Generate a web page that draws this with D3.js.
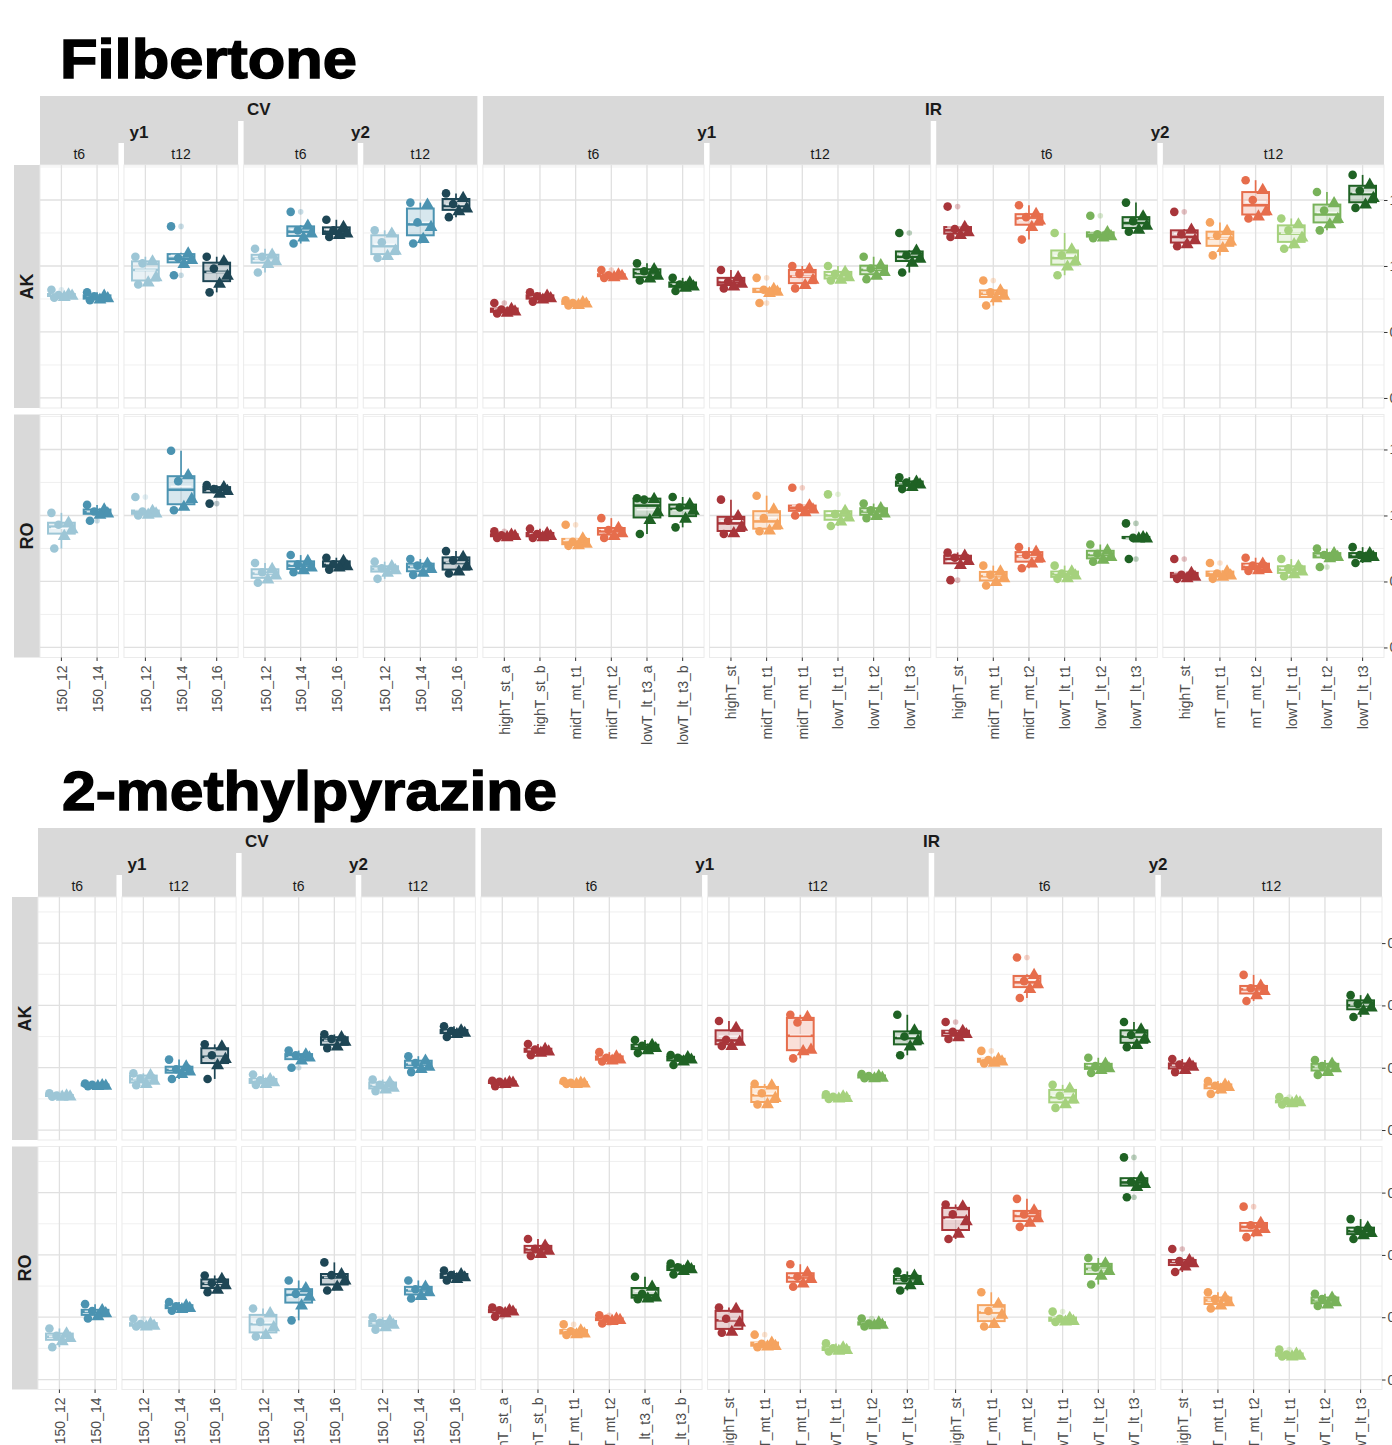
<!DOCTYPE html>
<html>
<head>
<meta charset="utf-8">
<script src="https://cdn.jsdelivr.net/npm/d3@7"></script>
<style>
  body { margin: 0; background: #fff; }
  svg { display: block; font-family: "Liberation Sans", Arial, sans-serif; }
</style>
</head>
<body>
<div id="chart"></div>
<script>
// ---------------- data ----------------
const ROWS = ["AK", "RO"];

// facet columns, left to right
const PANEL_SYS   = ["CV", "CV", "CV", "CV", "IR", "IR", "IR", "IR"];
const PANEL_YEAR  = ["y1", "y1", "y2", "y2", "y1", "y1", "y2", "y2"];
const PANEL_TIME  = ["t6", "t12", "t6", "t12", "t6", "t12", "t6", "t12"];
const PANEL_LABELS = [
  ["150_12", "150_14"],
  ["150_12", "150_14", "150_16"],
  ["150_12", "150_14", "150_16"],
  ["150_12", "150_14", "150_16"],
  ["highT_st_a", "highT_st_b", "midT_mt_t1", "midT_mt_t2", "lowT_lt_t3_a", "lowT_lt_t3_b"],
  ["highT_st", "midT_mt_t1", "midT_mt_t1", "lowT_lt_t1", "lowT_lt_t2", "lowT_lt_t3"],
  ["highT_st", "midT_mt_t1", "midT_mt_t2", "lowT_lt_t1", "lowT_lt_t2", "lowT_lt_t3"],
  ["highT_st", "mT_mt_t1", "mT_mt_t2", "lowT_lt_t1", "lowT_lt_t2", "lowT_lt_t3"]
];
// colour group of every category, same order as the labels
const PANEL_GROUPS = [
  ["150_12", "150_14"],
  ["150_12", "150_14", "150_16"],
  ["150_12", "150_14", "150_16"],
  ["150_12", "150_14", "150_16"],
  ["high", "high", "mid1", "mid2", "low3", "low3"],
  ["high", "mid1", "mid2", "low1", "low2", "low3"],
  ["high", "mid1", "mid2", "low1", "low2", "low3"],
  ["high", "mid1", "mid2", "low1", "low2", "low3"]
];

const COLORS = {
  "150_12": "#9dc6d6", "150_14": "#4b93b1", "150_16": "#1e4655",
  high: "#a8353a", mid1: "#f5a35f", mid2: "#e66d4c",
  low1: "#a5d17d", low2: "#78b25a", low3: "#1f6224"
};

// Filbertone, six replicates per category (35 categories in panel order)
const FILB_AK = [
  [0.82,0.79,0.78,0.78,0.77,0.76], [0.80,0.78,0.77,0.76,0.75,0.74],
  [1.07,1.04,1.02,0.92,0.88,0.86], [1.30,1.10,1.06,1.05,1.02,0.93], [1.07,1.04,0.98,0.93,0.87,0.80],
  [1.13,1.09,1.07,1.04,1.02,0.95], [1.41,1.31,1.27,1.25,1.22,1.17], [1.35,1.30,1.27,1.25,1.24,1.22],
  [1.27,1.25,1.18,1.12,1.08,1.06], [1.48,1.47,1.33,1.30,1.21,1.17], [1.55,1.52,1.47,1.44,1.42,1.37],
  [0.72,0.68,0.67,0.66,0.65,0.64], [0.80,0.78,0.77,0.76,0.75,0.73], [0.74,0.73,0.72,0.72,0.71,0.70],
  [0.97,0.94,0.93,0.93,0.92,0.91], [1.02,0.98,0.96,0.93,0.91,0.89], [0.91,0.88,0.86,0.85,0.84,0.81],
  [0.97,0.92,0.88,0.87,0.85,0.83], [0.91,0.83,0.82,0.81,0.80,0.72], [1.00,0.98,0.94,0.90,0.86,0.83],
  [1.00,0.96,0.94,0.92,0.90,0.89], [1.07,1.01,0.98,0.96,0.93,0.90], [1.25,1.12,1.08,1.06,1.03,0.95],
  [1.45,1.30,1.28,1.26,1.24,1.22], [0.89,0.82,0.80,0.78,0.76,0.70], [1.46,1.40,1.37,1.35,1.30,1.20],
  [1.25,1.13,1.08,1.04,1.00,0.93], [1.38,1.26,1.24,1.23,1.22,1.21], [1.48,1.38,1.34,1.31,1.28,1.26],
  [1.41,1.28,1.24,1.20,1.17,1.15], [1.33,1.27,1.23,1.19,1.14,1.08], [1.65,1.58,1.50,1.42,1.38,1.36],
  [1.36,1.32,1.27,1.22,1.17,1.13], [1.56,1.48,1.42,1.36,1.32,1.27], [1.69,1.62,1.57,1.52,1.47,1.44]
];
const FILB_RO = [
  [1.02,0.95,0.93,0.90,0.85,0.75], [1.08,1.05,1.03,1.02,1.01,0.96],
  [1.14,1.04,1.03,1.02,1.01,1.00], [1.49,1.31,1.26,1.13,1.07,1.04], [1.23,1.22,1.20,1.19,1.17,1.09],
  [0.64,0.60,0.57,0.55,0.52,0.49], [0.70,0.66,0.63,0.61,0.59,0.57], [0.68,0.66,0.63,0.62,0.61,0.59],
  [0.65,0.62,0.60,0.59,0.57,0.52], [0.67,0.64,0.62,0.60,0.57,0.55], [0.73,0.69,0.66,0.62,0.58,0.56],
  [0.88,0.86,0.85,0.85,0.84,0.83], [0.90,0.87,0.86,0.85,0.84,0.83], [0.93,0.83,0.80,0.79,0.78,0.77],
  [0.98,0.91,0.89,0.87,0.85,0.83], [1.13,1.13,1.12,1.03,0.97,0.86], [1.14,1.09,1.06,1.04,0.98,0.91],
  [1.12,1.00,0.96,0.92,0.87,0.86], [1.15,1.05,0.98,0.93,0.89,0.88], [1.21,1.08,1.06,1.05,1.03,1.00],
  [1.16,1.04,1.01,0.99,0.96,0.92], [1.09,1.06,1.04,1.02,1.00,0.98], [1.29,1.26,1.25,1.24,1.22,1.20],
  [0.72,0.70,0.68,0.66,0.63,0.51], [0.62,0.58,0.55,0.53,0.50,0.47], [0.76,0.73,0.70,0.68,0.64,0.60],
  [0.62,0.58,0.56,0.55,0.53,0.52], [0.78,0.74,0.71,0.69,0.67,0.65], [0.94,0.84,0.83,0.83,0.83,0.67],
  [0.67,0.57,0.55,0.54,0.53,0.52], [0.64,0.58,0.56,0.55,0.54,0.52], [0.68,0.64,0.62,0.60,0.59,0.58],
  [0.67,0.62,0.60,0.58,0.56,0.54], [0.75,0.72,0.70,0.69,0.68,0.61], [0.76,0.72,0.70,0.69,0.68,0.64]
];

// 2-methylpyrazine
const PYR_AK = [
  [0.0118,0.0113,0.0111,0.0110,0.0109,0.0107], [0.0149,0.0146,0.0145,0.0144,0.0143,0.0141],
  [0.0182,0.0178,0.0165,0.0160,0.0150,0.0144], [0.0226,0.0206,0.0195,0.0190,0.0182,0.0164], [0.0275,0.0270,0.0240,0.0230,0.0210,0.0164],
  [0.0178,0.0165,0.0160,0.0155,0.0150,0.0145], [0.0255,0.0245,0.0240,0.0235,0.0225,0.0200], [0.0307,0.0300,0.0292,0.0285,0.0270,0.0263],
  [0.0162,0.0155,0.0145,0.0138,0.0132,0.0125], [0.0237,0.0225,0.0215,0.0205,0.0198,0.0186], [0.0333,0.0322,0.0318,0.0314,0.0310,0.0299],
  [0.0158,0.0156,0.0155,0.0154,0.0150,0.0141], [0.0276,0.0262,0.0258,0.0254,0.0250,0.0240], [0.0157,0.0154,0.0152,0.0151,0.0150,0.0148],
  [0.0250,0.0238,0.0232,0.0228,0.0225,0.0220], [0.0289,0.0275,0.0270,0.0265,0.0258,0.0247], [0.0241,0.0236,0.0232,0.0228,0.0222,0.0209],
  [0.0350,0.0330,0.0290,0.0285,0.0272,0.0270], [0.0148,0.0145,0.0118,0.0105,0.0085,0.0082], [0.0370,0.0365,0.0345,0.0260,0.0255,0.0230],
  [0.0115,0.0110,0.0107,0.0105,0.0103,0.0100], [0.0180,0.0176,0.0173,0.0170,0.0168,0.0166], [0.0370,0.0322,0.0300,0.0290,0.0270,0.0240],
  [0.0347,0.0320,0.0315,0.0310,0.0300,0.0292], [0.0254,0.0230,0.0225,0.0222,0.0218,0.0214], [0.0554,0.0500,0.0478,0.0470,0.0455,0.0424],
  [0.0145,0.0135,0.0110,0.0100,0.0085,0.0071], [0.0232,0.0215,0.0205,0.0200,0.0195,0.0183], [0.0347,0.0325,0.0305,0.0295,0.0275,0.0266],
  [0.0228,0.0215,0.0210,0.0205,0.0195,0.0186], [0.0157,0.0148,0.0142,0.0140,0.0132,0.0116], [0.0498,0.0465,0.0455,0.0448,0.0435,0.0414],
  [0.0106,0.0095,0.0093,0.0091,0.0088,0.0082], [0.0225,0.0215,0.0205,0.0200,0.0188,0.0177], [0.0433,0.0420,0.0405,0.0395,0.0385,0.0363]
];
const PYR_RO = [
  [0.0164,0.0150,0.0140,0.0135,0.0125,0.0104], [0.0242,0.0225,0.0220,0.0215,0.0205,0.0196],
  [0.0195,0.0182,0.0178,0.0175,0.0172,0.0170], [0.0249,0.0240,0.0235,0.0232,0.0228,0.0221], [0.0334,0.0325,0.0310,0.0305,0.0290,0.0280],
  [0.0228,0.0215,0.0185,0.0170,0.0145,0.0138], [0.0318,0.0295,0.0275,0.0268,0.0240,0.0190], [0.0376,0.0340,0.0335,0.0320,0.0300,0.0286],
  [0.0200,0.0190,0.0182,0.0178,0.0170,0.0160], [0.0318,0.0300,0.0290,0.0282,0.0270,0.0260], [0.0350,0.0340,0.0335,0.0330,0.0325,0.0318],
  [0.0231,0.0225,0.0222,0.0220,0.0215,0.0202], [0.0451,0.0432,0.0420,0.0415,0.0405,0.0397], [0.0177,0.0160,0.0155,0.0150,0.0147,0.0143],
  [0.0206,0.0197,0.0195,0.0193,0.0190,0.0180], [0.0330,0.0300,0.0275,0.0265,0.0262,0.0258], [0.0372,0.0365,0.0360,0.0356,0.0350,0.0337],
  [0.0231,0.0229,0.0195,0.0185,0.0155,0.0150], [0.0144,0.0120,0.0115,0.0110,0.0108,0.0104], [0.0370,0.0345,0.0330,0.0325,0.0310,0.0298],
  [0.0116,0.0105,0.0100,0.0097,0.0094,0.0090], [0.0196,0.0185,0.0180,0.0178,0.0176,0.0170], [0.0347,0.0335,0.0325,0.0318,0.0305,0.0286],
  [0.0562,0.0558,0.0530,0.0510,0.0470,0.0451], [0.0280,0.0245,0.0220,0.0210,0.0180,0.0170], [0.0580,0.0545,0.0530,0.0520,0.0505,0.0490],
  [0.0218,0.0200,0.0195,0.0190,0.0188,0.0185], [0.0390,0.0375,0.0360,0.0350,0.0335,0.0305], [0.0713,0.0650,0.0635,0.0630,0.0620,0.0585],
  [0.0419,0.0385,0.0380,0.0375,0.0365,0.0345], [0.0280,0.0265,0.0258,0.0250,0.0240,0.0228], [0.0555,0.0505,0.0495,0.0485,0.0475,0.0457],
  [0.0096,0.0085,0.0080,0.0078,0.0076,0.0074], [0.0275,0.0265,0.0258,0.0250,0.0243,0.0236], [0.0515,0.0490,0.0480,0.0472,0.0465,0.0451]
];

const FILB_TICKS = [0, 0.5, 1, 1.5];
const FILB_MINOR = [0.25, 0.75, 1.25, 1.75];
const PYR_TICKS = [0, 0.02, 0.04, 0.06];
const PYR_MINOR = [0.01, 0.03, 0.05, 0.07];

// ---------------- layout ----------------
const W = 1392, H = 1445;
const UNIT = 35.67;        // px per discrete step
const GAP = 5.5;           // panel spacing
const PANEL_H = 243, ROW_GAP = 6.5;
const JIT = [-0.28, 0.2, -0.08, 0.3, 0.08, -0.2];   // jitter offsets (steps)
const SHAPES = ["circle", "triangle", "circle", "triangle", "triangle", "circle"];

const svg = d3.select("#chart").append("svg")
  .attr("width", W).attr("height", H)
  .style("overflow", "hidden");

const triangle = d3.symbol().type(d3.symbolTriangle).size(72);

function drawChart(cfg) {
  const g = svg.append("g").attr("transform", `translate(${cfg.ox},${cfg.oy})`);

  // Title
  g.append("text")
    .attr("x", cfg.titleX).attr("y", 78)
    .attr("font-size", 56).attr("font-weight", "bold")
    .attr("stroke", "#000").attr("stroke-width", 1.4)
    .attr("textLength", cfg.titleLen).attr("lengthAdjust", "spacingAndGlyphs")
    .text(cfg.title);

  // Panel x extents
  let x = 40;
  const panels = PANEL_LABELS.map((labels, i) => {
    const w = (labels.length + 0.2) * UNIT;
    const p = { i, x0: x, x1: x + w, labels, sys: PANEL_SYS[i], year: PANEL_YEAR[i], time: PANEL_TIME[i] };
    p.scale = d3.scalePoint().domain(d3.range(labels.length)).range([p.x0, p.x1]).padding(0.6);
    x += w + GAP;
    return p;
  });
  const xRight = panels[panels.length - 1].x1;

  // Strips: three nesting levels
  const stripTop = 96, l2 = 121, l3 = 143, panelTop = 165;
  const strips = g.append("g");
  const sysGroups = d3.groups(panels, p => p.sys);
  sysGroups.forEach(([key, ps]) => {
    const a = ps[0].x0, b = ps[ps.length - 1].x1;
    strips.append("rect").attr("x", a).attr("y", stripTop).attr("width", b - a).attr("height", l2 - stripTop).attr("fill", "#d9d9d9");
    strips.append("text").attr("x", (a + b) / 2).attr("y", (stripTop + l2) / 2 + 0.5)
      .attr("text-anchor", "middle").attr("dominant-baseline", "central")
      .attr("font-size", 17).attr("font-weight", "bold").attr("fill", "#1a1a1a").text(key);
  });
  const yearGroups = d3.groups(panels, p => p.sys + "|" + p.year);
  yearGroups.forEach(([key, ps]) => {
    const a = ps[0].x0, b = ps[ps.length - 1].x1;
    strips.append("rect").attr("x", a).attr("y", l2).attr("width", b - a).attr("height", l3 - l2).attr("fill", "#d9d9d9");
    strips.append("text").attr("x", (a + b) / 2).attr("y", (l2 + l3) / 2)
      .attr("text-anchor", "middle").attr("dominant-baseline", "central")
      .attr("font-size", 17).attr("font-weight", "bold").attr("fill", "#1a1a1a").text(ps[0].year);
  });
  panels.forEach(p => {
    strips.append("rect").attr("x", p.x0).attr("y", l3).attr("width", p.x1 - p.x0).attr("height", panelTop - l3).attr("fill", "#d9d9d9");
    strips.append("text").attr("x", (p.x0 + p.x1) / 2).attr("y", (l3 + panelTop) / 2)
      .attr("text-anchor", "middle").attr("dominant-baseline", "central")
      .attr("font-size", 14).attr("fill", "#1a1a1a").text(p.time);
  });

  // Rows
  ROWS.forEach((row, r) => {
    const top = panelTop + r * (PANEL_H + ROW_GAP), bottom = top + PANEL_H;
    const y = d3.scaleLinear().domain(cfg.domain).range([bottom, top]);
    const values = cfg.values[r];

    // row strip
    g.append("rect").attr("x", 14).attr("y", top).attr("width", 26).attr("height", PANEL_H).attr("fill", "#d9d9d9");
    g.append("text").attr("transform", `translate(27,${(top + bottom) / 2}) rotate(-90)`)
      .attr("text-anchor", "middle").attr("dominant-baseline", "central")
      .attr("font-size", 18).attr("font-weight", "bold").attr("fill", "#1a1a1a").text(row);

    let k = 0;
    panels.forEach(p => {
      const pg = g.append("g");
      pg.append("rect").attr("x", p.x0).attr("y", top).attr("width", p.x1 - p.x0).attr("height", PANEL_H)
        .attr("fill", "#fff").attr("stroke", "#ebebeb").attr("stroke-width", 1);

      // grid
      pg.selectAll(".minor").data(cfg.minor.filter(v => y(v) >= top && y(v) <= bottom)).join("line")
        .attr("x1", p.x0).attr("x2", p.x1).attr("y1", d => y(d)).attr("y2", d => y(d))
        .attr("stroke", "#ececec").attr("stroke-width", 0.8);
      pg.selectAll(".major").data(cfg.ticks).join("line")
        .attr("x1", p.x0).attr("x2", p.x1).attr("y1", d => y(d)).attr("y2", d => y(d))
        .attr("stroke", "#e0e0e0").attr("stroke-width", 1.3);
      pg.selectAll(".vgrid").data(p.scale.domain()).join("line")
        .attr("x1", d => p.scale(d)).attr("x2", d => p.scale(d)).attr("y1", top).attr("y2", bottom)
        .attr("stroke", "#e0e0e0").attr("stroke-width", 1.3);

      // boxes + points
      p.labels.forEach((lab, ci) => {
        const vals = values[k++];
        const color = COLORS[PANEL_GROUPS[p.i][ci]];
        const cx = p.scale(ci);
        const bw = 0.75 * UNIT;
        const s = vals.slice().sort(d3.ascending);
        const q1 = d3.quantile(s, 0.25), med = d3.quantile(s, 0.5), q3 = d3.quantile(s, 0.75);
        const iqr = q3 - q1;
        const lo = d3.min(s.filter(v => v >= q1 - 1.5 * iqr));
        const hi = d3.max(s.filter(v => v <= q3 + 1.5 * iqr));
        const outliers = s.filter(v => v < lo || v > hi);

        const bg = pg.append("g");
        bg.append("line").attr("x1", cx).attr("x2", cx).attr("y1", y(hi)).attr("y2", y(q3))
          .attr("stroke", color).attr("stroke-width", 1.7);
        bg.append("line").attr("x1", cx).attr("x2", cx).attr("y1", y(q1)).attr("y2", y(lo))
          .attr("stroke", color).attr("stroke-width", 1.7);
        bg.append("rect").attr("x", cx - bw / 2).attr("y", y(q3)).attr("width", bw)
          .attr("height", Math.max(0.5, y(q1) - y(q3)))
          .attr("fill", color).attr("fill-opacity", 0.22)
          .attr("stroke", color).attr("stroke-width", 2);
        bg.append("line").attr("x1", cx - bw / 2).attr("x2", cx + bw / 2).attr("y1", y(med)).attr("y2", y(med))
          .attr("stroke", color).attr("stroke-width", 2.6);
        bg.append("line").attr("x1", cx - bw / 2 + 3).attr("x2", cx + bw / 2 - 3)
          .attr("y1", y(d3.mean(s)) - 0.5).attr("y2", y(d3.mean(s)) - 0.5)
          .attr("stroke", "#fff").attr("stroke-opacity", 0.75).attr("stroke-width", 1.6);
        bg.selectAll(".out").data(outliers).join("circle")
          .attr("cx", cx).attr("cy", d => y(d)).attr("r", 2.8)
          .attr("fill", color).attr("fill-opacity", 0.3);

        vals.forEach((v, j) => {
          const px = cx + JIT[j] * UNIT, py = y(v);
          if (SHAPES[j] === "circle") {
            bg.append("circle").attr("cx", px).attr("cy", py).attr("r", 4.3).attr("fill", color);
          } else {
            bg.append("path").attr("d", triangle).attr("transform", `translate(${px},${py + 0.9})`).attr("fill", color);
          }
        });
      });

      // x axis
      if (r === ROWS.length - 1) {
        const ax = g.append("g");
        p.labels.forEach((lab, ci) => {
          const cx = p.scale(ci);
          ax.append("line").attr("x1", cx).attr("x2", cx).attr("y1", bottom).attr("y2", bottom + 3.5)
            .attr("stroke", "#333").attr("stroke-width", 1);
          ax.append("text").attr("transform", `translate(${cx + 0.5},${bottom + 8}) rotate(-90)`)
            .attr("text-anchor", "end").attr("dominant-baseline", "central")
            .attr("font-size", 14).attr("fill", "#4d4d4d").text(lab);
        });
      }
    });

    // y axis on the right
    const yAxis = g.append("g").attr("transform", `translate(${xRight},0)`)
      .call(d3.axisRight(y).tickValues(cfg.ticks).tickSize(3.5).tickPadding(2).tickFormat(cfg.fmt));
    yAxis.select(".domain").remove();
    yAxis.selectAll(".tick line").attr("stroke", "#333");
    yAxis.selectAll(".tick text").attr("font-size", 14).attr("fill", "#4d4d4d")
      .attr("font-family", "Liberation Sans, Arial, sans-serif");
  });
}

drawChart({
  title: "Filbertone", titleX: 60, titleLen: 297, ox: 0, oy: 0,
  domain: [-0.076, 1.765], ticks: FILB_TICKS, minor: FILB_MINOR,
  fmt: d3.format(".1f"), values: [FILB_AK, FILB_RO]
});
drawChart({
  title: "2-methylpyrazine", titleX: 64, titleLen: 495, ox: -2, oy: 732,
  domain: [-0.0032, 0.0748], ticks: PYR_TICKS, minor: PYR_MINOR,
  fmt: d3.format(".2f"), values: [PYR_AK, PYR_RO]
});
</script>
</body>
</html>
